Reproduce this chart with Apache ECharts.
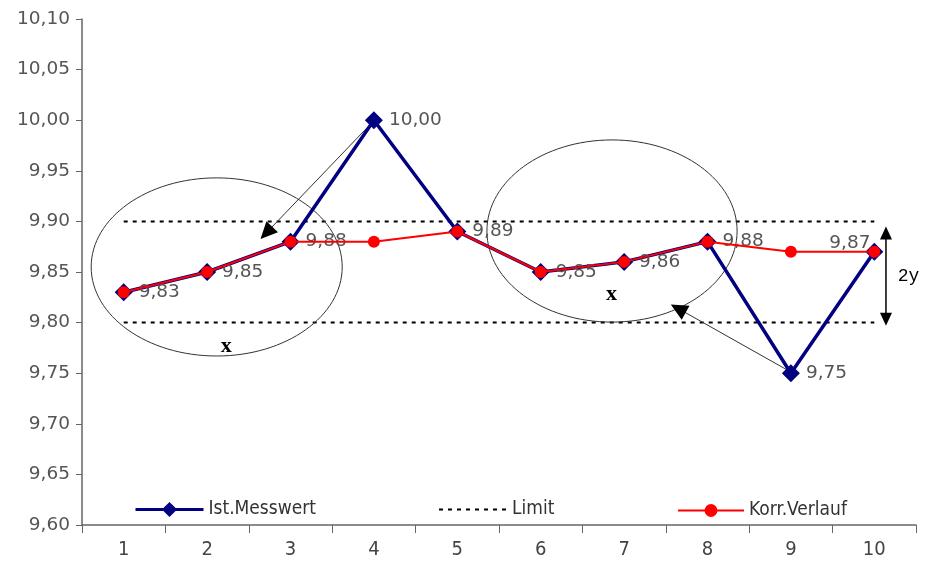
<!DOCTYPE html>
<html>
<head>
<meta charset="utf-8">
<script src="https://cdn.jsdelivr.net/npm/echarts@6/dist/echarts.min.js"></script>
<style>
html,body{margin:0;padding:0;background:#fff;}
#chart{width:925px;height:567px;}
</style>
</head>
<body>
<div id="chart"></div>
<script>
var categories = ['1','2','3','4','5','6','7','8','9','10'];
var istValues = [9.83, 9.85, 9.88, 10.00, 9.89, 9.85, 9.86, 9.88, 9.75, 9.87];
var korrValues = [9.83, 9.85, 9.88, 9.88, 9.89, 9.85, 9.86, 9.88, 9.87, 9.87];
var limitUpper = [9.90, 9.90, 9.90, 9.90, 9.90, 9.90, 9.90, 9.90, 9.90, 9.90];
var limitLower = [9.80, 9.80, 9.80, 9.80, 9.80, 9.80, 9.80, 9.80, 9.80, 9.80];
var seriesNames = ['Ist.Messwert', 'Limit', 'Korr.Verlauf'];

function fmt(v){ return Number(v).toFixed(2).replace('.', ','); }

var chart = echarts.init(document.getElementById('chart'));
var legendText = {fontFamily:'DejaVu Sans Condensed', fontSize:19, color:'#333'};

var option = {
  animation:false,
  backgroundColor:'#fff',
  grid:{left:82, right:9, top:19, bottom:42, containLabel:false},
  legend:[
    {data:[{name:seriesNames[0]}], left:134, top:500, itemWidth:68, itemHeight:19, itemGap:0, textStyle:legendText, padding:0, lineStyle:{width:3}},
    {data:[{name:seriesNames[1], itemStyle:{opacity:0}}], left:438, top:500, itemWidth:68, itemHeight:19, itemGap:0, textStyle:legendText, padding:0},
    {data:[{name:seriesNames[2]}], left:677, top:501, itemWidth:66, itemHeight:16, itemGap:0, textStyle:legendText, padding:0}
  ],
  xAxis:{
    type:'category', data:categories, boundaryGap:true,
    axisLine:{lineStyle:{color:'#666', width:1.5}},
    axisTick:{show:true, length:8, lineStyle:{color:'#666'}},
    axisLabel:{fontFamily:'DejaVu Sans Condensed', fontSize:20, color:'#444', margin:15},
    splitLine:{show:false}
  },
  yAxis:{
    type:'value', min:9.60, max:10.10, interval:0.05,
    axisLine:{show:true, lineStyle:{color:'#666', width:1.5}},
    axisTick:{show:true, length:6, lineStyle:{color:'#666'}},
    axisLabel:{fontFamily:'DejaVu Sans', fontSize:18.5, color:'#555', margin:12, formatter:fmt},
    splitLine:{show:false}
  },
  series:[
    {name:seriesNames[1], type:'line', data:limitUpper, symbol:'none', silent:true,
     lineStyle:{color:'#000', width:2, type:[4,5]}, itemStyle:{color:'#000'}, z:1},
    {name:seriesNames[1], type:'line', data:limitLower, symbol:'none', silent:true,
     lineStyle:{color:'#000', width:2, type:[4,5]}, itemStyle:{color:'#000'}, z:1},
    {name:seriesNames[0], type:'line', data:istValues, symbol:'diamond', symbolSize:18,
     lineStyle:{color:'#000080', width:3.5}, itemStyle:{color:'#000080'}, z:3,
     label:{show:true, position:'right', distance:6, fontFamily:'DejaVu Sans', fontSize:18.5, color:'#555', formatter:function(p){return fmt(p.value);}},
     labelLayout:function(params){
       if(params.dataIndex===9){ return {x: params.rect.x - 36, y: params.rect.y - 9, align:'left', verticalAlign:'top'}; }
       return {};
     }
    },
    {name:seriesNames[2], type:'line', data:korrValues, symbol:'circle', symbolSize:12,
     lineStyle:{color:'#ff0000', width:2}, itemStyle:{color:'#ff0000'}, z:4}
  ]
};
chart.setOption(option);

// annotation shapes in data space
var ellipses = [
  {i:1.115, v:9.855, ri:1.505, rv:0.088},
  {i:5.855, v:9.8905, ri:1.5, rv:0.09}
];
var arrows = [
  {from:[2.97, 9.997], to:[1.64, 9.8826]},
  {from:[7.96, 9.753], to:[6.56, 9.818]}
];
var crossMarks = [[1.23, 9.777], [5.85, 9.828]];
var spanArrow = {i:9.14, top:9.895, bottom:9.797};
var spanLabel = {i:9.28, v:9.846, text:'2y'};

var p0 = chart.convertToPixel({xAxisIndex:0}, categories[0]);
var p1 = chart.convertToPixel({xAxisIndex:0}, categories[1]);
var step = p1 - p0;
function px(i){ return p0 + i*step; }
function py(v){ return chart.convertToPixel({yAxisIndex:0}, v); }

function arrowHead(x1,y1,x2,y2,len,half){
  var a = Math.atan2(y2-y1, x2-x1);
  var bx = x2 - len*Math.cos(a), by = y2 - len*Math.sin(a);
  var nx = -Math.sin(a), ny = Math.cos(a);
  return [[x2,y2],[bx+nx*half, by+ny*half],[bx-nx*half, by-ny*half]];
}

var g = [];
ellipses.forEach(function(e){
  var cx = px(e.i), cy = py(e.v);
  var rx = e.ri*step, ry = Math.abs(py(e.v+e.rv) - cy);
  g.push({type:'ellipse', shape:{cx:cx, cy:cy, rx:rx, ry:ry}, style:{fill:null, stroke:'#333', lineWidth:1}, z:2, silent:true});
});
arrows.forEach(function(a){
  var x1=px(a.from[0]), y1=py(a.from[1]), x2=px(a.to[0]), y2=py(a.to[1]);
  var head = arrowHead(x1,y1,x2,y2,17,8);
  var ang = Math.atan2(y2-y1,x2-x1);
  g.push({type:'line', shape:{x1:x1,y1:y1,x2:x2-14*Math.cos(ang),y2:y2-14*Math.sin(ang)}, style:{stroke:'#333', lineWidth:1}, z:2, silent:true});
  g.push({type:'polygon', shape:{points:head}, style:{fill:'#000'}, z:2, silent:true});
});
crossMarks.forEach(function(c){
  g.push({type:'text', x:px(c[0]), y:py(c[1]), style:{text:'x', fontFamily:'Liberation Serif', fontWeight:'bold', fontSize:22, fill:'#000', align:'center', verticalAlign:'middle'}, z:5, silent:true});
});
(function(){
  var x = px(spanArrow.i), yt = py(spanArrow.top), yb = py(spanArrow.bottom);
  g.push({type:'line', shape:{x1:x, y1:yt+10, x2:x, y2:yb-10}, style:{stroke:'#000', lineWidth:1.5}, z:5, silent:true});
  g.push({type:'polygon', shape:{points:[[x,yt],[x-6,yt+13],[x+6,yt+13]]}, style:{fill:'#000'}, z:5, silent:true});
  g.push({type:'polygon', shape:{points:[[x,yb],[x-6,yb-13],[x+6,yb-13]]}, style:{fill:'#000'}, z:5, silent:true});
  g.push({type:'text', x:px(spanLabel.i), y:py(spanLabel.v), style:{text:spanLabel.text, fontFamily:'Liberation Mono', fontSize:18, fill:'#000', align:'left', verticalAlign:'middle'}, z:5, silent:true});
})();
chart.setOption({graphic:{elements:g}});
</script>
</body>
</html>
